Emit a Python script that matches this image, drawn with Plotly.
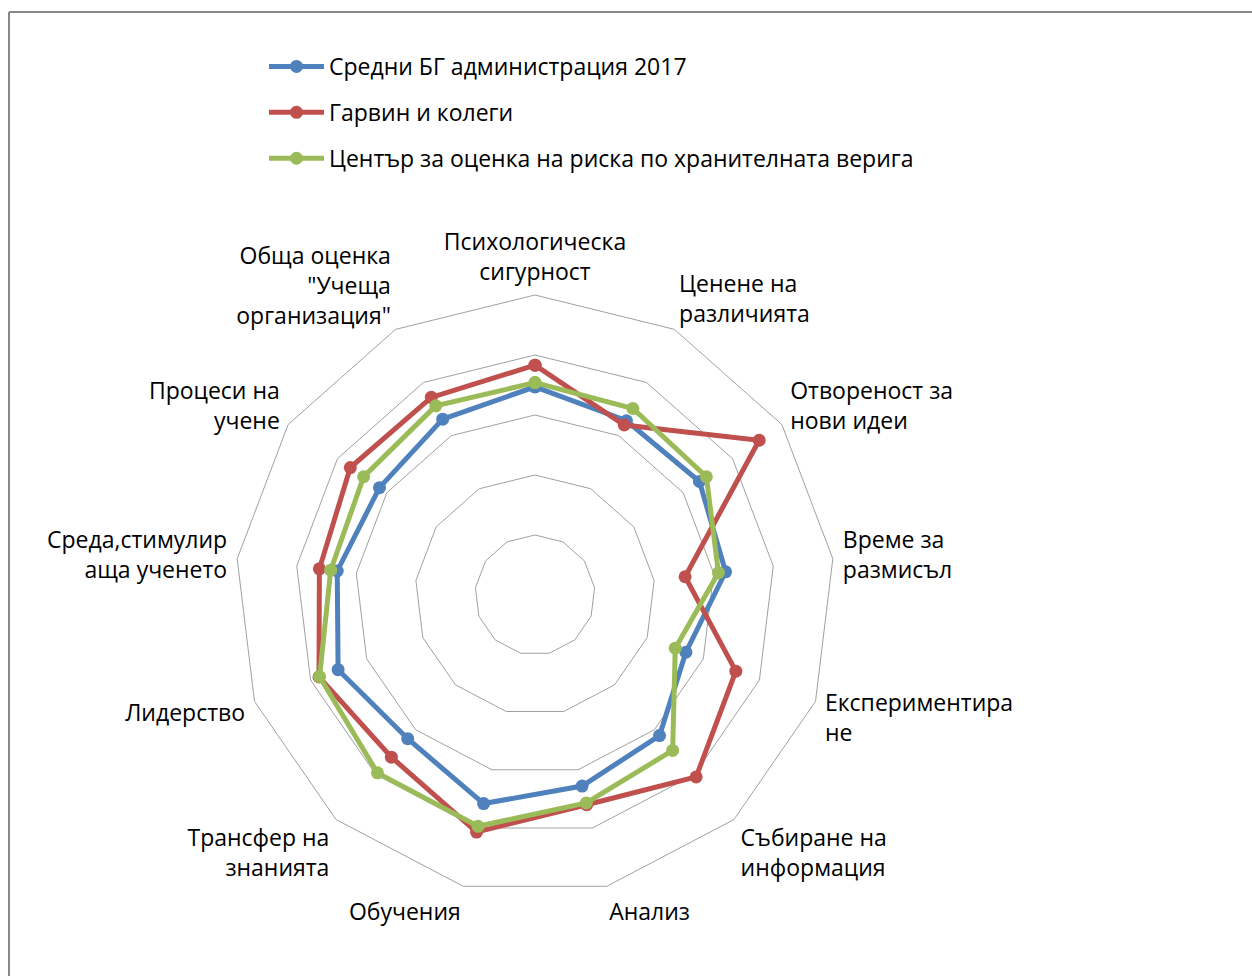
import plotly.graph_objects as go

categories = [
    "Психологическа<br>сигурност",
    "Ценене на<br>различията",
    "Отвореност за<br>нови идеи",
    "Време за<br>размисъл",
    "Експериментира<br>не",
    "Събиране на<br>информация",
    "Анализ",
    "Обучения",
    "Трансфер на<br>знанията",
    "Лидерство",
    "Среда,стимулир<br>аща ученето",
    "Процеси на<br>учене",
    "Обща оценка<br>\"Учеща<br>организация\"",
]

series_names = [
    "Средни БГ администрация 2017",
    "Гарвин и колеги",
    "Център за оценка на риска по хранителната верига",
]

blue_vals = [3.47, 3.28, 3.33, 3.20, 2.69, 3.13, 3.28, 3.58, 3.20, 3.51, 3.32, 3.15, 3.31]
red_vals = [3.83, 3.20, 4.54, 2.52, 3.58, 4.05, 3.60, 4.07, 3.61, 3.85, 3.62, 3.74, 3.72]
green_vals = [3.54, 3.51, 3.47, 3.08, 2.50, 3.46, 3.57, 3.97, 3.96, 3.84, 3.43, 3.47, 3.56]

colors = ["#4F81BD", "#C0504D", "#9BBB59"]
FONT = "Open Sans"
FS = 23
W, H = 1252, 976

fig = go.Figure()
for name, vals, col in zip(series_names, [blue_vals, red_vals, green_vals], colors):
    fig.add_trace(go.Scatterpolar(
        r=vals + vals[:1],
        theta=categories + categories[:1],
        mode="lines+markers",
        name=name,
        legendgroup=name,
        line=dict(color=col, width=5),
        marker=dict(color=col, size=13),
    ))

cx, cy, R = 535, 595, 300
fig.update_layout(
    width=W, height=H,
    margin=dict(l=0, r=0, t=0, b=0),
    paper_bgcolor="white",
    plot_bgcolor="white",
    font=dict(family=FONT, size=FS, color="#000000"),
    showlegend=True,
    legend=dict(
        x=264 / W, y=1 - 45 / H, xanchor="left", yanchor="top",
        font=dict(family=FONT, size=FS, color="#000000"),
        tracegroupgap=13,
        itemwidth=55,
        bgcolor="rgba(0,0,0,0)",
    ),
    polar=dict(
        domain=dict(x=[(cx - R) / W, (cx + R) / W], y=[(H - cy - R) / H, (H - cy + R) / H]),
        bgcolor="white",
        gridshape="linear",
        radialaxis=dict(
            range=[0, 5], tickvals=[1, 2, 3, 4, 5], showticklabels=False,
            ticks="", showline=False, gridcolor="#A0A0A0", gridwidth=1,
        ),
        angularaxis=dict(
            direction="clockwise", rotation=90, showgrid=False,
            showline=True, linecolor="#A0A0A0", linewidth=1,
            ticks="outside", ticklen=5, tickcolor="rgba(0,0,0,0)",
            tickfont=dict(family=FONT, size=FS, color="#000000"),
        ),
    ),
    shapes=[
        dict(type="line", xref="paper", yref="paper", x0=9 / W, x1=1.01, y0=1 - 12 / H, y1=1 - 12 / H,
             line=dict(color="#888888", width=2)),
        dict(type="line", xref="paper", yref="paper", x0=9 / W, x1=9 / W, y0=-0.01, y1=1 - 12 / H,
             line=dict(color="#888888", width=2)),
    ],
)

fig.write_html("out.html")
